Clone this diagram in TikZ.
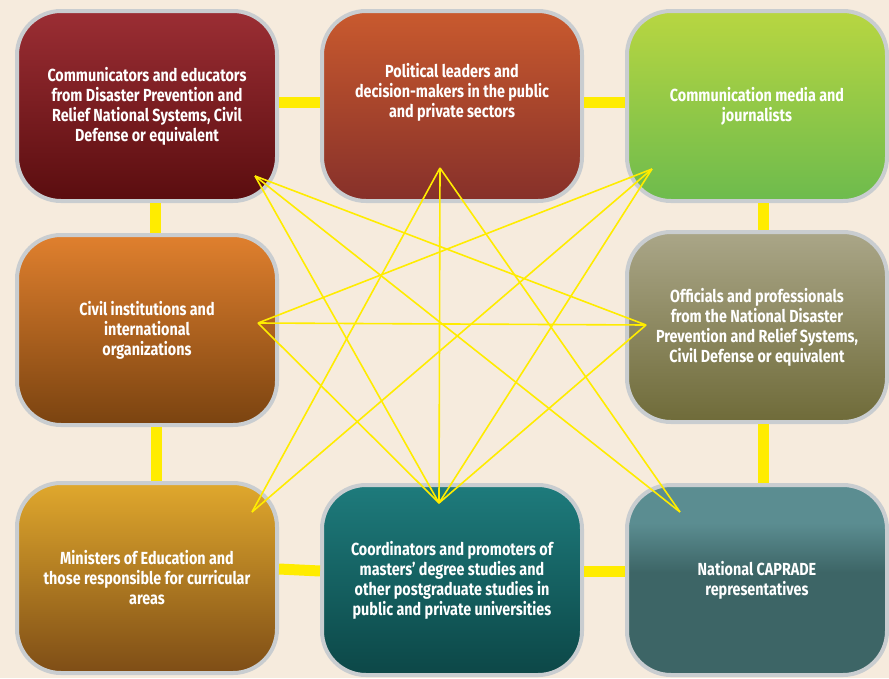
\documentclass[tikz,border=0pt]{standalone}
\usepackage{fontspec}
\newfontfamily\boxfont[FakeStretch=0.82]{Fira Sans}

\definecolor{bg}{HTML}{F6EBDD}
\definecolor{boxline}{HTML}{C9CDD0}
\definecolor{linkyellow}{HTML}{FFEC00}
\definecolor{c1a}{HTML}{9B2E34}
\definecolor{c1b}{HTML}{5A0D0F}
\definecolor{c2a}{HTML}{C95A2E}
\definecolor{c2b}{HTML}{86302A}
\definecolor{c3a}{HTML}{B8D641}
\definecolor{c3b}{HTML}{6DBB4D}
\definecolor{c4a}{HTML}{E0802E}
\definecolor{c4b}{HTML}{7A4310}
\definecolor{c5a}{HTML}{AAA688}
\definecolor{c5b}{HTML}{6F6B39}
\definecolor{c6a}{HTML}{E0A82D}
\definecolor{c6b}{HTML}{7E4D16}
\definecolor{c7a}{HTML}{1E7B7C}
\definecolor{c7b}{HTML}{0C4747}
\definecolor{c8a}{HTML}{5B8D91}
\definecolor{c8b}{HTML}{3D6566}

\pgfdeclareverticalshading{caprade}{100bp}{color(0bp)=(c8b); color(52bp)=(c8b); color(65bp)=(c8a); color(100bp)=(c8a)}

\begin{document}
\begin{tikzpicture}[x=1pt, y=-1pt,
    box/.style={rounded corners=44pt, draw=boxline, line width=4pt,
        minimum width=260pt, minimum height=190pt, align=center, text=white,
        font=\boxfont\bfseries\fontsize{17.5}{20}\selectfont},
    boxtext/.style={align=center, text=white,
        font=\boxfont\bfseries\fontsize{17.5}{20}\selectfont},
    bar/.style={draw=linkyellow, line width=11pt},
    ray/.style={draw=linkyellow, line width=1.6pt}]

    % Background
    \fill[bg] (0,0) rectangle (889,678);
    \useasboundingbox (0,0) rectangle (889,678);

    % Boxes
    \node[box, top color=c1a, bottom color=c1b] (b1) at (147,106)
        {Communicators and educators\\from Disaster Prevention and\\Relief National Systems, Civil\\Defense or equivalent};
    \node[box, top color=c2a, bottom color=c2b] (b2) at (452,106) {};
    \node[box, top color=c3a, bottom color=c3b] (b3) at (757,106)
        {Communication media and\\journalists};
    \node[box, top color=c4a, bottom color=c4b] (b4) at (147,330)
        {Civil institutions and\\international\\organizations};
    \node[box, top color=c5a, bottom color=c5b] (b5) at (757,327)
        {Officials and professionals\\from the National Disaster\\Prevention and Relief Systems,\\Civil Defense or equivalent};
    \node[box, top color=c6a, bottom color=c6b] (b6) at (147,578)
        {Ministers of Education and\\those responsible for curricular\\areas};
    \node[box, top color=c7a, bottom color=c7b] (b7) at (452,580)
        {Coordinators and promoters of\\masters’ degree studies and\\other postgraduate studies in\\public and private universities};
    \node[box, shading=caprade] (b8) at (757,580)
        {National CAPRADE\\representatives};
    \node[boxtext] (t2) at (452,92)
        {Political leaders and\\decision-makers in the public\\and private sectors};

    % Thick links between neighbours
    \draw[bar] ([yshift=4pt]b1.east) -- ([yshift=4pt]b2.west);
    \draw[bar] ([yshift=4pt]b2.east) -- ([yshift=4pt]b3.west);
    \draw[bar] ([xshift=8pt]b1.south) -- ([xshift=8pt]b4.north);
    \draw[bar] ([xshift=9pt]b4.south) -- ([xshift=9pt]b6.north);
    \draw[bar] ([xshift=6pt]b3.south) -- ([xshift=6pt]b5.north);
    \draw[bar] ([xshift=6pt]b5.south) -- ([xshift=6pt]b8.north);
    \draw[bar] ([yshift=9pt]b6.east) -- ([yshift=9pt]b7.west);
    \draw[bar] ([yshift=9pt]b7.east) -- ([yshift=9pt]b8.west);

    % Star of thin lines
    \coordinate (p1) at (255,176);
    \coordinate (p2) at (440,168);
    \coordinate (p3) at (652,169);
    \coordinate (p4) at (258,323);
    \coordinate (p5) at (646,325);
    \coordinate (p6) at (252,512);
    \coordinate (p7) at (439,503);
    \coordinate (p8) at (680,512);
    \foreach \a/\b in {p1/p5, p1/p8, p1/p7, p3/p4, p3/p7, p3/p6,
                       p4/p5, p4/p7, p5/p7, p2/p6, p2/p7, p2/p8}
        \draw[ray] (\a) -- (\b);
\end{tikzpicture}
\end{document}
